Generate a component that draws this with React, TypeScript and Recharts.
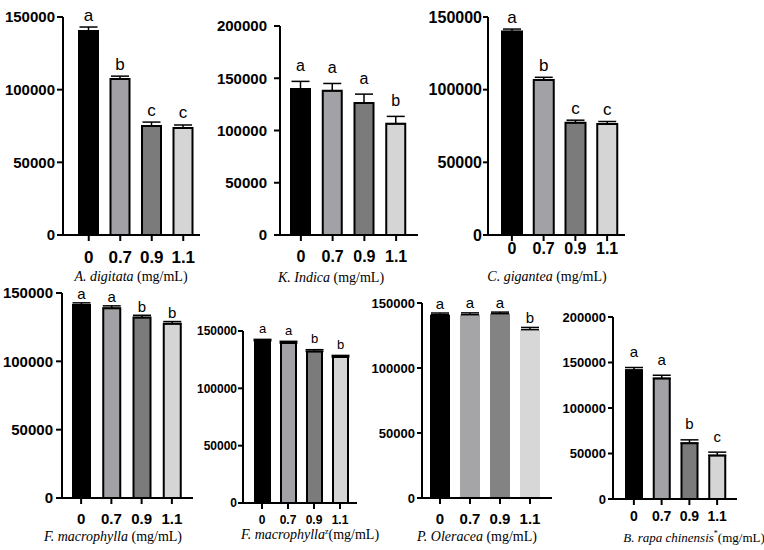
import React from "react";
import { BarChart, Bar, XAxis, YAxis, Cell, ErrorBar, LabelList } from "recharts";

// concentrations (mg/mL), shared by every panel
const doses = ["0", "0.7", "0.9", "1.1"];

const digitataMeans = [140400, 107300, 75000, 73600];
const digitataErrs = [2700, 2000, 2700, 2100];
const digitataLetters = ["a", "b", "c", "c"];

const indicaMeans = [139700, 138000, 126300, 106500];
const indicaErrs = [7300, 7000, 8500, 7000];
const indicaLetters = ["a", "a", "a", "b"];

const giganteaMeans = [140000, 106600, 77300, 76400];
const giganteaErrs = [1700, 1900, 1700, 1700];
const giganteaLetters = ["a", "b", "c", "c"];

const macrophyllaMeans = [141300, 138800, 132000, 127500];
const macrophyllaErrs = [1500, 1800, 1700, 1600];
const macrophyllaLetters = ["a", "a", "b", "b"];

const macrophyllaZMeans = [141500, 139500, 132200, 127300];
const macrophyllaZErrs = [1200, 1500, 1500, 1400];
const macrophyllaZLetters = ["a", "a", "b", "b"];

const oleraceaMeans = [141000, 141000, 141800, 129500];
const oleraceaErrs = [1300, 1400, 1200, 1700];
const oleraceaLetters = ["a", "a", "a", "b"];

const rapaMeans = [141600, 132500, 61300, 47800];
const rapaErrs = [2900, 3500, 3700, 3700];
const rapaLetters = ["a", "a", "b", "c"];

const ticks150 = [0, 50000, 100000, 150000];
const ticks200 = [0, 50000, 100000, 150000, 200000];

const barColors = ["#000000", "#a2a1a6", "#7b7b7b", "#d5d5d5"];
const oleraceaColors = ["#000000", "#a5a5a7", "#838383", "#d7d7d7"];

const SANS = "'Liberation Sans', Arial, sans-serif";
const SERIF = "'Liberation Serif', 'Times New Roman', serif";

type PanelProps = {
  means: number[];
  errs: number[];
  letters: string[];
  yTicks: number[];
  colors: string[];
  outlined: boolean;
  axisX: number;
  axisEnd: number;
  yTop: number;
  yZero: number;
  padL: number;
  padR: number;
  barSize: number;
  xFont: number;
  yFont: number;
  xMargin: number;
  yMargin: number;
  yTickSize: number;
  letterSize: number;
  gap: number;
};

function Panel(p: PanelProps) {
  const data = doses.map((c, i) => ({
    c,
    v: p.means[i],
    e: [0, p.errs[i]],
    letter: p.letters[i],
  }));
  const yAxisW = 70;
  const mTop = 40;
  const mRight = 4;
  const xAxisH = 40;
  const left = p.axisX - yAxisW;
  const top = p.yTop - mTop;
  const width = p.axisEnd - left + mRight;
  const height = p.yZero - top + xAxisH;
  const sw = p.outlined ? 2 : 0;

  const renderLetter = (props: any) => {
    const { x, y, width: w, height: h, index, value } = props;
    const d = data[index];
    const errPx = d && d.v ? (p.errs[index] * Number(h)) / d.v : 0;
    return (
      <text
        x={Number(x) + Number(w) / 2}
        y={Number(y) - errPx - p.gap}
        textAnchor="middle"
        dominantBaseline="central"
        fontSize={p.letterSize}
        fontFamily={SANS}
        fill="#000"
      >
        {value}
      </text>
    );
  };

  return (
    <div style={{ position: "absolute", left, top }}>
      <BarChart
        width={width}
        height={height}
        data={data}
        margin={{ top: mTop, right: mRight, left: 0, bottom: 0 }}
      >
        <XAxis
          dataKey="c"
          height={xAxisH}
          padding={{ left: p.padL, right: p.padR }}
          axisLine={{ stroke: "#000", strokeWidth: 2 }}
          tickLine={{ stroke: "#000", strokeWidth: 2 }}
          tickSize={6}
          tickMargin={p.xMargin}
          tick={{ fontSize: p.xFont, fontWeight: 700, fill: "#000", fontFamily: SANS }}
          interval={0}
        />
        <YAxis
          width={yAxisW}
          domain={[0, p.yTicks[p.yTicks.length - 1]]}
          ticks={p.yTicks}
          interval={0}
          axisLine={{ stroke: "#000", strokeWidth: 2 }}
          tickLine={{ stroke: "#000", strokeWidth: 2 }}
          tickSize={p.yTickSize}
          tickMargin={p.yMargin}
          tick={{ fontSize: p.yFont, fontWeight: 700, fill: "#000", fontFamily: SANS }}
        />
        <Bar
          dataKey="v"
          barSize={p.barSize}
          stroke="#000"
          strokeWidth={sw}
          isAnimationActive={false}
        >
          {data.map((d, i) => (
            <Cell key={d.c} fill={p.colors[i]} stroke={p.outlined ? "#000" : "none"} />
          ))}
          <ErrorBar dataKey="e" width={9} stroke="#000" strokeWidth={1.5} direction="y" />
          <LabelList dataKey="letter" content={renderLetter} />
        </Bar>
      </BarChart>
    </div>
  );
}

function Title({
  x,
  y,
  species,
  mark,
  size = 14,
}: {
  x: number;
  y: number;
  species: string;
  mark?: string;
  size?: number;
}) {
  return (
    <div
      style={{
        position: "absolute",
        left: x,
        top: y,
        transform: "translate(-50%, -50%)",
        whiteSpace: "nowrap",
        fontFamily: SERIF,
        fontSize: size,
        color: "#000",
        lineHeight: 1,
      }}
    >
      <i>{species}</i>
      {mark ? (
        <>
          <sup style={{ fontSize: 8 }}>{mark}</sup>(mg/mL)
        </>
      ) : (
        " (mg/mL)"
      )}
    </div>
  );
}

export default function App() {
  return (
    <div style={{ position: "absolute", left: 0, top: 0, width: 764, height: 550, background: "#fff" }}>
      <Panel
        means={digitataMeans} errs={digitataErrs} letters={digitataLetters}
        yTicks={ticks150} colors={barColors} outlined
        axisX={63} axisEnd={200} yTop={17} yZero={235} padL={10} padR={1} barSize={19}
        xFont={17} yFont={15} xMargin={10} yMargin={2} yTickSize={6} letterSize={17} gap={12}
      />
      <Panel
        means={indicaMeans} errs={indicaErrs} letters={indicaLetters}
        yTicks={ticks200} colors={barColors} outlined
        axisX={280} axisEnd={418} yTop={26} yZero={235} padL={5} padR={6} barSize={19}
        xFont={16} yFont={15} xMargin={10} yMargin={7} yTickSize={6} letterSize={16} gap={16}
      />
      <Panel
        means={giganteaMeans} errs={giganteaErrs} letters={giganteaLetters}
        yTicks={ticks150} colors={barColors} outlined
        axisX={488} axisEnd={625} yTop={17} yZero={235} padL={8} padR={2} barSize={20}
        xFont={16} yFont={16} xMargin={2} yMargin={1} yTickSize={5} letterSize={17} gap={12}
      />
      <Panel
        means={macrophyllaMeans} errs={macrophyllaErrs} letters={macrophyllaLetters}
        yTicks={ticks150} colors={barColors} outlined
        axisX={62} axisEnd={193} yTop={293} yZero={498} padL={4} padR={6} barSize={17}
        xFont={15} yFont={15} xMargin={9} yMargin={3} yTickSize={6} letterSize={15} gap={9}
      />
      <Panel
        means={macrophyllaZMeans} errs={macrophyllaZErrs} letters={macrophyllaZLetters}
        yTicks={ticks150} colors={barColors} outlined
        axisX={243} axisEnd={357} yTop={331} yZero={503} padL={6} padR={4} barSize={15}
        xFont={12} yFont={12} xMargin={6} yMargin={1} yTickSize={5} letterSize={13} gap={11}
      />
      <Panel
        means={oleraceaMeans} errs={oleraceaErrs} letters={oleraceaLetters}
        yTicks={ticks150} colors={oleraceaColors} outlined={false}
        axisX={422} axisEnd={552} yTop={303} yZero={498} padL={3} padR={7} barSize={20}
        xFont={15} yFont={13} xMargin={9} yMargin={2} yTickSize={5} letterSize={15} gap={10}
      />
      <Panel
        means={rapaMeans} errs={rapaErrs} letters={rapaLetters}
        yTicks={ticks200} colors={barColors} outlined
        axisX={613} axisEnd={737} yTop={317} yZero={499} padL={7} padR={6} barSize={16}
        xFont={14} yFont={13} xMargin={6} yMargin={2} yTickSize={5} letterSize={15} gap={16}
      />
      <Title x={131} y={277} species="A. digitata" />
      <Title x={331} y={278} species="K. Indica" />
      <Title x={547} y={277} species="C. gigantea" />
      <Title x={113} y={537} species="F. macrophylla" />
      <Title x={310} y={535} species="F. macrophylla" mark="z" />
      <Title x={477} y={537} species="P. Oleracea" />
      <Title x={694} y={537} species="B. rapa chinensis" mark="*" size={13} />
    </div>
  );
}
